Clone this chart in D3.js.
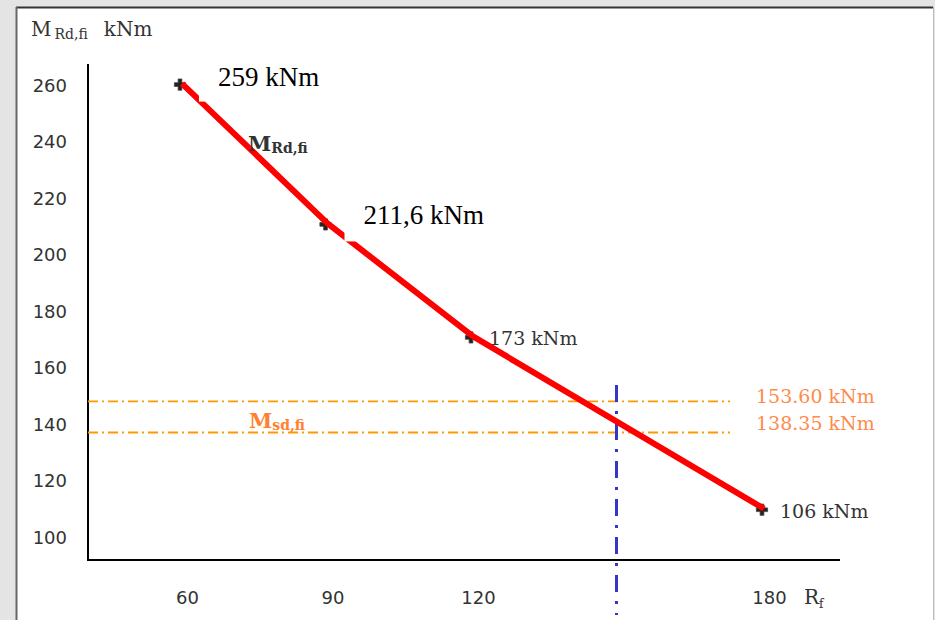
<!DOCTYPE html>
<html>
<head>
<meta charset="utf-8">
<script src="https://cdn.jsdelivr.net/npm/d3@7"></script>
<style>
  html, body { margin: 0; padding: 0; background: #e2e2e2; }
  svg { display: block; }
</style>
</head>
<body>
<svg id="chart" width="935" height="620"></svg>
<script>
// ---- data ----
const xValues = [60, 90, 120, 180];            // Rf (minutes)
const mRdValues = [260.5, 211, 171, 110];      // M Rd,fi position
const pointLabels = ["259 kNm", "211,6 kNm", "173 kNm", "106 kNm"];
const msdValues = [148, 137];                  // M sd,fi horizontal lines
const msdLabels = ["153.60 kNm", "138.35 kNm"];
const verticalMark = [150];
const xTicks = [60, 90, 120, 180];
const yTicks = [100, 120, 140, 160, 180, 200, 220, 240, 260];

const svg = d3.select("#chart");
const serif = "'DejaVu Serif', serif";
const times = "'Liberation Serif', 'Times New Roman', serif";
const sans = "'DejaVu Sans', sans-serif";

// frame
svg.append("rect").attr("x", 0).attr("y", 0).attr("width", 935).attr("height", 620).attr("fill", "#e4e4e4");
svg.append("rect").attr("x", 16).attr("y", 7).attr("width", 917).attr("height", 620).attr("fill", "#ffffff");
svg.append("line").attr("x1", 16).attr("x2", 933).attr("y1", 7.5).attr("y2", 7.5).attr("stroke", "#333").attr("stroke-width", 2);
svg.append("line").attr("x1", 16.5).attr("x2", 16.5).attr("y1", 7).attr("y2", 620).attr("stroke", "#666").attr("stroke-width", 2);
svg.append("line").attr("x1", 933.5).attr("x2", 933.5).attr("y1", 7).attr("y2", 620).attr("stroke", "#bbb").attr("stroke-width", 1);

// scales
const x = d3.scaleLinear().domain([60, 180]).range([182, 764]);
const y = d3.scaleLinear().domain([100, 260]).range([537, 85]);

// axes lines
const axisX0 = 88, axisY0 = 560;
svg.append("line").attr("x1", axisX0).attr("x2", axisX0).attr("y1", 64).attr("y2", axisY0 + 1)
  .attr("stroke", "#000").attr("stroke-width", 2);
svg.append("line").attr("x1", axisX0).attr("x2", 840).attr("y1", axisY0).attr("y2", axisY0)
  .attr("stroke", "#000").attr("stroke-width", 2);

// y tick labels
const yAxis = d3.axisLeft(y).tickValues(yTicks).tickSize(0).tickPadding(0);
const gy = svg.append("g").attr("transform", "translate(67,0)").call(yAxis);
gy.select(".domain").remove();
gy.selectAll("text").attr("font-family", sans).attr("font-size", 18).attr("fill", "#333").attr("dy", "0.35em");

// x tick labels
const xAxis = d3.axisBottom(x).tickValues(xTicks).tickSize(0).tickPadding(0).tickFormat(d3.format("d"));
const gx = svg.append("g").attr("transform", `translate(5,${axisY0 + 38})`).call(xAxis);
gx.select(".domain").remove();
gx.selectAll("text").attr("font-family", sans).attr("font-size", 18).attr("fill", "#333").attr("dy", "0.35em");

// Rf label
const rf = svg.append("text").attr("x", x(180) + 40).attr("y", axisY0 + 44)
  .attr("font-family", serif).attr("font-size", 20).attr("fill", "#333");
rf.append("tspan").text("R");
rf.append("tspan").attr("font-size", 12).attr("dy", 4).text("f");

// y title
const yt = svg.append("text").attr("x", 31).attr("y", 36).attr("font-family", serif).attr("font-size", 20).attr("fill", "#333");
yt.append("tspan").text("M");
yt.append("tspan").attr("font-size", 14).attr("dx", 3).attr("dy", 3).text("Rd,fi");
yt.append("tspan").attr("dx", 16).attr("dy", -3).text("kNm");

// orange M sd,fi lines
svg.selectAll(".msd").data(msdValues).join("line").attr("class", "msd")
  .attr("x1", axisX0).attr("x2", 730)
  .attr("y1", d => y(d)).attr("y2", d => y(d))
  .attr("stroke", "#ff9900").attr("stroke-width", 1.8).attr("stroke-dasharray", "10,4,2,4");

svg.selectAll(".msdLabel").data(msdValues).join("text").attr("class", "msdLabel")
  .attr("x", 756).attr("y", (d, i) => y(d) + (i === 0 ? 2 : -2))
  .attr("font-family", serif).attr("font-size", 19).attr("fill", "#ff8a4a")
  .text((d, i) => msdLabels[i]);

// M sd,fi label
const msdT = svg.append("text").attr("x", 249).attr("y", y(137) - 4)
  .attr("font-family", serif).attr("font-size", 21).attr("font-weight", "bold").attr("fill", "#ff8030");
msdT.append("tspan").text("M");
msdT.append("tspan").attr("font-size", 14).attr("dy", 2).text("sd,fi");

// blue vertical
svg.selectAll(".vmark").data(verticalMark).join("line").attr("class", "vmark")
  .attr("x1", d => x(d) - 2).attr("x2", d => x(d) - 2).attr("y1", 385).attr("y2", 615)
  .attr("stroke", "#3535c8").attr("stroke-width", 3).attr("stroke-dasharray", "17,9,3,9");

const pts = xValues.map((v, i) => ({ x: v, y: mRdValues[i], label: pointLabels[i] }));

// markers
svg.selectAll(".mk").data(pts).join("path").attr("class", "mk")
  .attr("d", d3.symbol().type(d3.symbolCross).size(70))
  .attr("transform", d => `translate(${x(d.x) - 2},${y(d.y) + 1})`)
  .attr("fill", "#222").attr("stroke", "#444").attr("stroke-width", 0.8);

// red line
svg.append("path").datum(pts)
  .attr("d", d3.line().x(d => x(d.x)).y(d => y(d.y)))
  .attr("fill", "none").attr("stroke", "#ff0000").attr("stroke-width", 6).attr("stroke-linejoin", "round");

// M Rd,fi label
const mrd = svg.append("text").attr("x", 248).attr("y", 151)
  .attr("font-family", serif).attr("font-size", 21).attr("font-weight", "bold").attr("fill", "#333");
mrd.append("tspan").text("M");
mrd.append("tspan").attr("font-size", 14).attr("dy", 2).text("Rd,fi");

// big boxed labels for first two points
const big = pts.slice(0, 2);
svg.selectAll(".box").data(big).join("rect").attr("class", "box")
  .attr("x", d => x(d.x) + 17).attr("y", (d, i) => y(d.y) - (i === 0 ? 32 : 35))
  .attr("width", 175).attr("height", (d, i) => i === 0 ? 50 : 53)
  .attr("fill", "#ffffff");
svg.selectAll(".bigLabel").data(big).join("text").attr("class", "bigLabel")
  .attr("x", d => x(d.x) + 36).attr("y", (d, i) => y(d.y) + (i === 0 ? 2 : 1))
  .attr("font-family", times).attr("font-size", 27).attr("fill", "#000")
  .text(d => d.label);

// small labels
const small = pts.slice(2);
svg.selectAll(".smallLabel").data(small).join("text").attr("class", "smallLabel")
  .attr("x", d => x(d.x) + 16).attr("y", d => y(d.y) + 9)
  .attr("font-family", serif).attr("font-size", 19).attr("fill", "#333")
  .text(d => d.label);
</script>
</body>
</html>
